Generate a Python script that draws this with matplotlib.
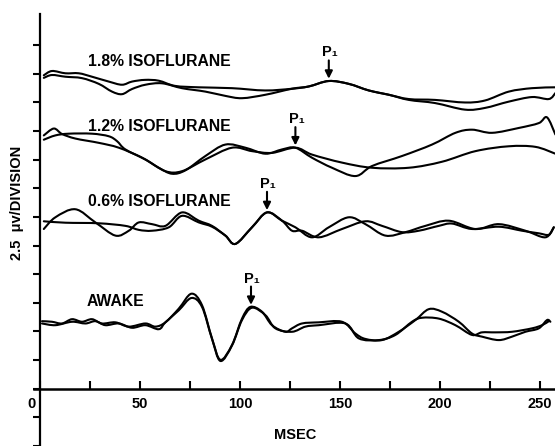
import numpy as np
import matplotlib
matplotlib.use("Agg")
import matplotlib.pyplot as plt
from matplotlib.path import Path
from matplotlib.patches import PathPatch
from matplotlib.transforms import ScaledTranslation

plt.rcParams['font.family'] = ['Liberation Sans', 'DejaVu Sans']

# ---------------- data (x in msec, y in divisions of 2.5 uV) ----------------
# 1.8% isoflurane
iso18_a_ms = [1.9, 6.0, 12.7, 19.4, 26.0, 34.4, 41.0, 46.0, 52.5, 59.4, 67.5, 79.4, 96.0, 112.5,
              126.0, 134.4, 144.4, 154.4, 164.4, 174.4, 184.4, 197.5, 212.5, 222.5, 234.4, 246.0, 257.5]
iso18_a_y = [10.95, 11.10, 11.02, 11.02, 10.90, 10.73, 10.62, 10.73, 10.79, 10.76, 10.58, 10.53, 10.50, 10.42,
             10.48, 10.56, 10.75, 10.65, 10.42, 10.27, 10.12, 10.09, 10.00, 10.07, 10.38, 10.50, 10.53]
iso18_b_ms = [1.9, 6.0, 12.7, 21.0, 29.4, 36.0, 41.0, 46.0, 52.7, 61.0, 71.0, 82.7, 92.7, 101.0, 112.7,
              126.0, 134.4, 144.4, 154.4, 164.4, 174.4, 184.4, 197.5, 212.5, 222.5, 234.4, 246.0, 254.4, 257.7]
iso18_b_y = [10.86, 10.96, 10.90, 10.85, 10.65, 10.38, 10.29, 10.47, 10.62, 10.67, 10.50, 10.38, 10.23, 10.15, 10.27,
             10.48, 10.56, 10.75, 10.65, 10.42, 10.27, 10.09, 9.98, 9.75, 9.81, 10.03, 10.19, 10.12, 10.33]

# 1.2% isoflurane
iso12_a_ms = [1.9, 6.9, 11.0, 17.7, 29.4, 39.4, 51.0, 59.4, 66.0, 72.7, 82.7, 92.7, 102.7, 112.7, 121.0,
              127.7, 136.0, 146.0, 157.7, 166.0, 181.0, 196.0, 207.7, 216.0, 226.0, 239.4, 249.4, 253.5, 257.7]
iso12_a_y = [8.85, 9.09, 8.90, 8.74, 8.59, 8.42, 8.07, 7.72, 7.51, 7.63, 8.13, 8.53, 8.42, 8.21, 8.36,
             8.42, 8.07, 7.72, 7.43, 7.78, 8.13, 8.53, 8.94, 9.05, 8.94, 9.11, 9.28, 9.48, 8.88]
iso12_b_ms = [1.9, 7.7, 14.4, 26.0, 34.4, 38.5, 42.7, 52.7, 62.7, 71.0, 82.7, 96.0, 106.0, 116.0,
              127.7, 136.0, 151.0, 166.0, 184.4, 201.0, 217.7, 234.4, 247.7, 257.7]
iso12_b_y = [8.70, 8.85, 8.91, 8.91, 8.82, 8.65, 8.36, 8.01, 7.60, 7.60, 8.01, 8.42, 8.30, 8.24,
             8.42, 8.18, 7.90, 7.72, 7.72, 7.93, 8.30, 8.47, 8.45, 8.21]

# 0.6% isoflurane
iso06_a_ms = [1.9, 7.7, 17.7, 27.7, 37.7, 44.4, 49.4, 56.0, 62.7, 71.0, 79.4, 86.0, 92.7, 97.7, 106.0,
              113.5, 121.0, 127.7, 136.0, 144.4, 154.4, 162.7, 172.7, 182.7, 192.7, 204.4, 217.7, 229.4,
              242.7, 252.7, 256.9]
iso06_a_y = [5.58, 5.99, 6.27, 5.81, 5.35, 5.52, 5.81, 5.75, 5.69, 6.16, 5.87, 5.69, 5.35, 5.06, 5.64,
             6.16, 5.87, 5.64, 5.29, 5.64, 5.99, 5.75, 5.35, 5.47, 5.69, 5.87, 5.58, 5.75,
             5.52, 5.29, 5.64]
iso06_b_ms = [1.9, 12.7, 29.4, 42.7, 49.4, 56.0, 64.4, 71.0, 79.4, 86.0, 92.7, 97.7, 106.0, 113.5, 121.0,
              126.0, 131.0, 139.4, 151.0, 162.7, 171.0, 181.0, 189.4, 199.4, 206.0, 216.0, 229.4, 241.0,
              249.4, 254.4, 256.9]
iso06_b_y = [5.85, 5.80, 5.78, 5.69, 5.55, 5.52, 5.64, 6.04, 5.81, 5.66, 5.35, 5.06, 5.64, 6.16, 5.87,
             5.52, 5.52, 5.29, 5.58, 5.85, 5.69, 5.47, 5.52, 5.69, 5.77, 5.58, 5.66, 5.52,
             5.43, 5.38, 5.64]

# awake
awake_a_ms = [1.0, 6.0, 11.0, 16.0, 21.0, 26.0, 31.0, 37.7, 44.4, 52.7, 57.7, 62.7, 69.4, 75.7, 81.0,
              86.0, 90.2, 96.0, 101.0, 105.2, 111.0, 116.0, 122.7, 126.0, 131.0, 139.4, 151.0, 157.7,
              162.7, 171.0, 179.4, 187.7, 194.4, 201.0, 209.4, 216.0, 221.0, 229.4, 236.0, 242.7, 249.4,
              253.5, 255.2]
awake_a_y = [2.36, 2.34, 2.28, 2.43, 2.34, 2.43, 2.28, 2.32, 2.17, 2.28, 2.17, 2.32, 2.80, 3.32, 2.92,
             1.76, 1.01, 1.53, 2.45, 2.86, 2.69, 2.22, 1.99, 2.11, 2.28, 2.32, 2.34, 1.93,
             1.74, 1.70, 1.99, 2.40, 2.78, 2.69, 2.34, 1.93, 1.82, 1.70, 1.82, 1.99, 2.11,
             2.40, 2.34]
awake_b_ms = [1.0, 7.7, 16.0, 22.7, 27.7, 32.7, 39.4, 46.0, 52.7, 59.4, 62.7, 69.4, 75.7, 81.0, 86.0,
              90.2, 96.0, 101.0, 106.0, 112.7, 117.7, 126.0, 132.7, 139.4, 152.7, 159.4, 169.4, 177.7,
              186.0, 191.0, 199.4, 207.7, 216.0, 221.0, 227.7, 236.0, 246.0, 251.0, 254.4]
awake_b_y = [2.28, 2.22, 2.34, 2.28, 2.36, 2.22, 2.28, 2.13, 2.22, 2.08, 2.32, 2.74, 3.17, 2.86, 1.74,
             0.97, 1.51, 2.40, 2.83, 2.57, 2.11, 1.99, 2.17, 2.22, 2.28, 1.76, 1.70, 1.88,
             2.34, 2.48, 2.45, 2.22, 1.88, 1.97, 1.97, 1.99, 2.11, 2.22, 2.36]

conditions = ["1.8% ISOFLURANE", "1.2% ISOFLURANE", "0.6% ISOFLURANE", "AWAKE"]
p1_latency_ms = [144.4, 127.7, 113.5, 105.5]

x_ticks = [0, 25, 50, 75, 100, 125, 150, 175, 200, 225, 250]
x_tick_labels = ["0", "", "50", "", "100", "", "150", "", "200", "", "250"]
y_ticks = list(range(-2, 13))


def smooth_path(xs, ys):
    """Catmull-Rom spline rendered as cubic Bezier segments through the data points."""
    p = np.column_stack([xs, ys]).astype(float)
    n = len(p)
    verts = [p[0]]
    codes = [Path.MOVETO]
    for i in range(n - 1):
        p0 = p[i - 1] if i > 0 else p[i]
        p1, p2 = p[i], p[i + 1]
        p3 = p[i + 2] if i + 2 < n else p[i + 1]
        c1 = p1 + (p2 - p0) / 6.0
        c2 = p2 - (p3 - p1) / 6.0
        verts += [c1, c2, p2]
        codes += [Path.CURVE4] * 3
    return Path(verts, codes)


# ---------------- figure ----------------
fig = plt.figure(figsize=(5.55, 4.46), dpi=100)
ax = fig.add_axes([0, 0, 1, 1])
ax.set_xlim(-20, 257.5)
ax.set_ylim(-1.98, 13.58)

traces = [
    (iso18_a_ms, iso18_a_y, iso18_b_ms, iso18_b_y),
    (iso12_a_ms, iso12_a_y, iso12_b_ms, iso12_b_y),
    (iso06_a_ms, iso06_a_y, iso06_b_ms, iso06_b_y),
    (awake_a_ms, awake_a_y, awake_b_ms, awake_b_y),
]
for xa, ya, xb, yb in traces:
    for xs, ys in ((xa, ya), (xb, yb)):
        ax.add_patch(PathPatch(smooth_path(xs, ys), facecolor="none", edgecolor="black",
                               lw=1.5, joinstyle="round", capstyle="round"))

# condition labels
label_pos = [(24.2, 11.42), (24.2, 9.16), (24.2, 6.53), (23.3, 3.06)]
for name, (lx, ly) in zip(conditions, label_pos):
    ax.text(lx, ly, name, fontsize=11.3, fontweight="bold", ha="left", va="center")

# P1 arrows
for (xa, ya, xb, yb), lat in zip(traces, p1_latency_ms):
    peak = max(np.interp(lat, xa, ya), np.interp(lat, xb, yb))
    ax.annotate("", xy=(lat, peak + 0.08), xytext=(lat, peak + 0.72),
                arrowprops=dict(arrowstyle="-|>", color="black", lw=1.5, mutation_scale=11,
                                shrinkA=0, shrinkB=0))
    ax.text(lat + 0.5, peak + 1.0, "P₁", fontsize=10.5, fontweight="bold", ha="center", va="center")

# axes styling
for s in ["top", "right"]:
    ax.spines[s].set_visible(False)
ax.spines["left"].set_position(("data", 0))
ax.spines["bottom"].set_position(("data", 0))
ax.spines["left"].set_bounds(-1.98, 13.1)
ax.spines["bottom"].set_bounds(-3.0, 257.5)
ax.spines["left"].set_linewidth(1.6)
ax.spines["bottom"].set_linewidth(1.8)

ax.set_xticks(x_ticks)
ax.set_xticklabels(x_tick_labels, fontsize=10.5, fontweight="bold")
ax.set_yticks(y_ticks)
ax.set_yticklabels([])
ax.tick_params(axis="x", direction="in", length=6, width=1.5, pad=6)
ax.tick_params(axis="y", direction="out", length=5, width=1.5)

zero_lbl = ax.get_xticklabels()[0]
zero_lbl.set_transform(zero_lbl.get_transform() + ScaledTranslation(-0.09, 0, fig.dpi_scale_trans))

ax.text(127.8, -1.6, "MSEC", fontsize=10.5, fontweight="bold", ha="center", va="center")
ax.text(-11.5, 6.5, "2.5  μv/DIVISION", fontsize=10.5, fontweight="bold", ha="center", va="center",
        rotation=90)

fig.savefig("out.png", dpi=100)
